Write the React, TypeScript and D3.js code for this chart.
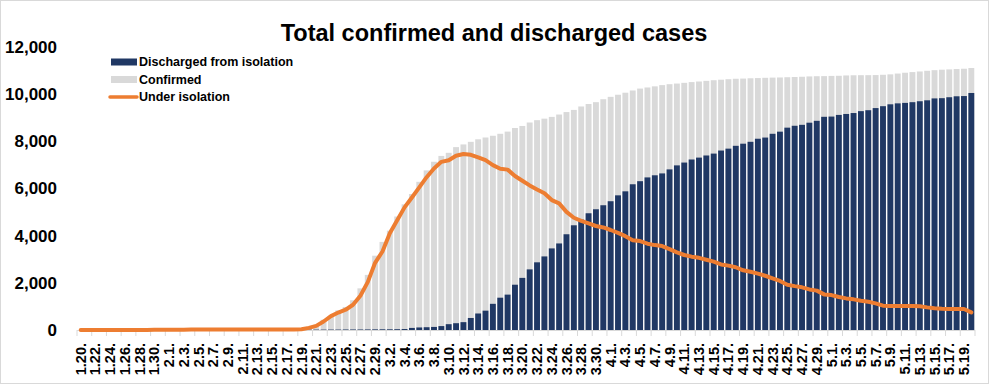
import React from "react";
import * as d3 from "d3";

const dates = [
  "1.20", "1.21", "1.22", "1.23", "1.24", "1.25", "1.26", "1.27", "1.28", "1.29", "1.30", "1.31",
  "2.1", "2.2", "2.3", "2.4", "2.5", "2.6", "2.7", "2.8", "2.9", "2.10", "2.11", "2.12", "2.13", "2.14", "2.15",
  "2.16", "2.17", "2.18", "2.19", "2.20", "2.21", "2.22", "2.23", "2.24", "2.25", "2.26", "2.27", "2.28", "2.29",
  "3.1", "3.2", "3.3", "3.4", "3.5", "3.6", "3.7", "3.8", "3.9", "3.10", "3.11", "3.12", "3.13", "3.14", "3.15",
  "3.16", "3.17", "3.18", "3.19", "3.20", "3.21", "3.22", "3.23", "3.24", "3.25", "3.26", "3.27", "3.28", "3.29",
  "3.30", "3.31",
  "4.1", "4.2", "4.3", "4.4", "4.5", "4.6", "4.7", "4.8", "4.9", "4.10", "4.11", "4.12", "4.13", "4.14", "4.15",
  "4.16", "4.17", "4.18", "4.19", "4.20", "4.21", "4.22", "4.23", "4.24", "4.25", "4.26", "4.27", "4.28", "4.29", "4.30",
  "5.1", "5.2", "5.3", "5.4", "5.5", "5.6", "5.7", "5.8", "5.9", "5.10", "5.11", "5.12", "5.13", "5.14", "5.15",
  "5.16", "5.17", "5.18", "5.19", "5.20",
];

const confirmed = [
  1, 1, 1, 1, 2, 2, 3, 4, 4, 4, 6, 11,
  12, 15, 15, 16, 19, 23, 24, 24, 27, 27, 28, 28, 28, 28, 28, 29, 30, 31,
  51, 104, 204, 433, 602, 833, 977, 1261, 1766, 2337, 3150,
  3736, 4212, 4812, 5328, 5766, 6284, 6767, 7134, 7382, 7513, 7755, 7869, 7979, 8086, 8162,
  8236, 8320, 8413, 8565, 8652, 8799, 8897, 8961, 9037, 9137, 9241, 9332, 9478, 9583, 9661, 9786,
  9887, 9976, 10062, 10156, 10237, 10284, 10331, 10384, 10423, 10450, 10480, 10512, 10537, 10564, 10591,
  10613, 10635, 10653, 10661, 10674, 10683, 10694, 10702, 10708, 10718, 10728, 10738, 10752, 10761, 10765,
  10774, 10780, 10793, 10801, 10804, 10806, 10810, 10822, 10840, 10874, 10909, 10936, 10962, 10991, 11018,
  11037, 11050, 11065, 11078, 11110,
];

const discharged = [
  0, 0, 0, 0, 0, 0, 0, 0, 0, 0, 0, 0,
  0, 0, 0, 0, 1, 2, 2, 2, 3, 4, 4, 7, 7, 7, 9, 9, 10, 12,
  16, 16, 16, 16, 18, 18, 22, 22, 22, 24, 27,
  30, 30, 34, 41, 88, 108, 118, 130, 166, 247, 288, 333, 510, 700, 820,
  1110, 1370, 1500, 1920, 2210, 2570, 2870, 3120, 3460, 3670, 4060, 4440, 4680, 4950, 5120, 5290,
  5460, 5710, 5880, 6180, 6310, 6470, 6560, 6640, 6810, 6980, 7100, 7230, 7310, 7400, 7480,
  7610, 7690, 7810, 7900, 7980, 8110, 8160, 8320, 8410, 8580, 8660, 8700, 8790, 8870, 9040,
  9050, 9120, 9160, 9200, 9280, 9320, 9410, 9490, 9570, 9610, 9630, 9660, 9700, 9740, 9820,
  9830, 9870, 9910, 9920, 10050,
];

const isolated = [
  1, 1, 1, 1, 2, 2, 3, 4, 4, 4, 6, 11,
  12, 15, 15, 16, 18, 21, 22, 22, 24, 23, 24, 21, 21, 21, 19, 20, 20, 19,
  35, 90, 175, 360, 590, 740, 860, 1070, 1450, 2030, 2850,
  3330, 4100, 4650, 5200, 5620, 6050, 6480, 6850, 7130, 7200, 7390, 7460, 7430, 7320, 7200,
  6990, 6840, 6800, 6530, 6330, 6130, 5960, 5800, 5510, 5370, 5010, 4760, 4630, 4520, 4410, 4350,
  4240, 4120, 3980, 3810, 3770, 3660, 3600, 3560, 3430, 3290, 3180, 3110, 3060, 2980, 2900,
  2780, 2730, 2660, 2530, 2470, 2390, 2300, 2190, 2080, 1920, 1860, 1810, 1720, 1670, 1510,
  1480, 1400, 1340, 1300, 1240, 1200, 1130, 1030, 1020, 1020, 1020, 1020, 1010, 960, 920,
  900, 890, 890, 890, 750,
];

const yTicks = [0, 2000, 4000, 6000, 8000, 10000, 12000];

const legendItems = [
  { label: "Discharged from isolation", type: "bar", color: "#203864" },
  { label: "Confirmed", type: "bar", color: "#D9D9D9" },
  { label: "Under isolation", type: "line", color: "#ED7D31" },
];

const W = 989, H = 384;
const font = "'Liberation Sans', Arial, sans-serif";

export default function App() {
  const x = d3.scaleBand().domain(dates).range([77, 975]).paddingInner(0.2).paddingOuter(0.1);
  const y = d3.scaleLinear().domain([0, 12000]).range([330, 47]);
  const step = x.step();
  const bw = x.bandwidth();
  const cx = (d) => (x(d) as number) + bw / 2;

  const line = d3.line<number>()
    .x((d, i) => cx(dates[i]))
    .y(d => y(d));

  // tick marks sit between bars, one every two categories
  const tickXs = dates
    .map((d, i) => (i % 2 === 0 ? (x(d) as number) - (step - bw) / 2 : null))
    .filter(v => v !== null) as number[];
  tickXs.push(975);

  return (
    <svg width={W} height={H} style={{ position: "fixed", left: 0, top: 0, background: "#fff" }}>
      <rect x={0.5} y={0.5} width={W - 1} height={H - 1} fill="#fff" stroke="#D9D9D9" />
      <text x={494} y={41} textAnchor="middle" fontFamily={font} fontWeight="bold" fontSize={23.5} fill="#000">
        Total confirmed and discharged cases
      </text>

      {yTicks.map(t => (
        <text key={t} x={57} y={y(t)} dy="0.35em" textAnchor="end" fontFamily={font}
          fontWeight="bold" fontSize={17} fill="#000">
          {d3.format(",")(t)}
        </text>
      ))}

      {confirmed.map((v, i) => (
        <rect key={"c" + i} x={x(dates[i])} y={y(v)} width={bw} height={y(0) - y(v)} fill="#D9D9D9" />
      ))}
      {discharged.map((v, i) => (
        <rect key={"d" + i} x={x(dates[i])} y={y(v)} width={bw} height={y(0) - y(v)} fill="#203864" />
      ))}

      <line x1={77} x2={975} y1={330.5} y2={330.5} stroke="#D9D9D9" />
      {tickXs.map((tx, i) => (
        <line key={"t" + i} x1={tx} x2={tx} y1={330} y2={336} stroke="#D9D9D9" />
      ))}

      <path d={line(isolated) as string} fill="none" stroke="#ED7D31" strokeWidth={4}
        strokeLinejoin="round" strokeLinecap="round" />

      {dates.map((d, i) => i % 2 === 0 ? (
        <text key={"l" + d} transform={`translate(${cx(d)},343) rotate(-90)`} dy="0.35em"
          textAnchor="end" fontFamily={font} fontWeight="bold" fontSize={14.5} fill="#000">
          {d + "."}
        </text>
      ) : null)}

      {legendItems.map((it, i) => {
        const ly = 62 + i * 17.5;
        return (
          <g key={it.label}>
            {it.type === "bar"
              ? <rect x={111} y={ly - 3.5} width={26} height={7} fill={it.color} />
              : <line x1={110} x2={137} y1={ly} y2={ly} stroke={it.color} strokeWidth={3.5} strokeLinecap="round" />}
            <text x={139} y={ly} dy="0.35em" fontFamily={font} fontWeight="bold" fontSize={12.5} fill="#000">
              {it.label}
            </text>
          </g>
        );
      })}
    </svg>
  );
}
